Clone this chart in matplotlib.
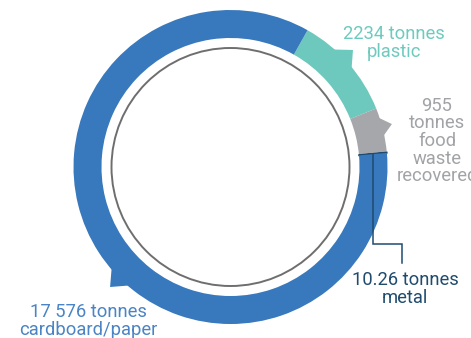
import numpy as np
import matplotlib
matplotlib.use("Agg")
import matplotlib.pyplot as plt
import matplotlib.patches as mpatches

# -- data -- #
categories = ["plastic", "food waste recovered", "metal", "cardboard/paper"]
tonnes = [2234, 955, 10.26, 17576]
labels = [
    "2234 tonnes\nplastic",
    "955\ntonnes\nfood\nwaste\nrecovered",
    "10.26 tonnes\nmetal",
    "17 576 tonnes\ncardboard/paper",
]

ringColors = ["#6dc8bd", "#a6a7aa", "#1e4b70", "#3878bc"]
textColors = ["#6ecabf", "#a2a3a6", "#1f4b6e", "#4a84c4"]

W, H = 471, 338
cx, cy = 230.5, H - 167
rOut, ringW = 157, 28
rCircle = 119

fig = plt.figure(figsize=(W / 100, H / 100), dpi=100)
ax = fig.add_axes([0, 0, 1, 1])

wedges, _ = ax.pie(
    tonnes,
    colors=ringColors,
    startangle=60.6,
    counterclock=False,
    radius=rOut,
    center=(cx, cy),
    wedgeprops=dict(width=ringW, linewidth=0),
)
# metal is a sliver: give it a visible outline
wedges[2].set_edgecolor(ringColors[2])
wedges[2].set_linewidth(1.1)

ax.set_xlim(0, W)
ax.set_ylim(0, H)
ax.set_aspect("equal")
ax.axis("off")

# inner thin circle
ax.add_patch(mpatches.Circle((cx, cy), rCircle, fill=False,
                             edgecolor="#6e6e6e", linewidth=1.4))


def polar(ang, r):
    a = np.deg2rad(ang)
    return cx + r * np.cos(a), cy + r * np.sin(a)


# little pointer tabs (angle 1, angle 2, apex angle, apex radius)
tabs = [(49.3, 38.7, 43.7, 169.4, 0),
        (18.8, 11.1, 14.9, 167.0, 1),
        (220.0, 229.8, 224.9, 170.0, 3)]
for a1, a2, ap, rp, idx in tabs:
    pts = [polar(a1, rOut - 2), polar(ap, rp), polar(a2, rOut - 2)]
    ax.add_patch(mpatches.Polygon(pts, closed=True, facecolor=ringColors[idx],
                                  edgecolor="none"))

# leader line for metal
total = sum(tonnes)
metalAng = 60.6 - 360 * (tonnes[0] + tonnes[1] + tonnes[2] / 2) / total
x0, y0 = polar(metalAng, rOut - ringW / 2)
ax.plot([x0, x0, x0 + 29, x0 + 29],
        [y0, H - 244, H - 244, H - 263],
        color=ringColors[2], linewidth=1.1, solid_joinstyle="miter")

font = "Roboto"
fs = 13.2
textPos = [(393.5, H - 43, 1.0), (437, H - 141, 0.97), (405, H - 289, 0.95),
           (88, H - 321, 0.95)]
for lab, col, (tx, ty, ls) in zip(labels, textColors, textPos):
    ax.text(tx, ty, lab, color=col, fontsize=fs, family=font,
            ha="center", va="center", linespacing=ls)

fig.savefig("out.png", dpi=100)
